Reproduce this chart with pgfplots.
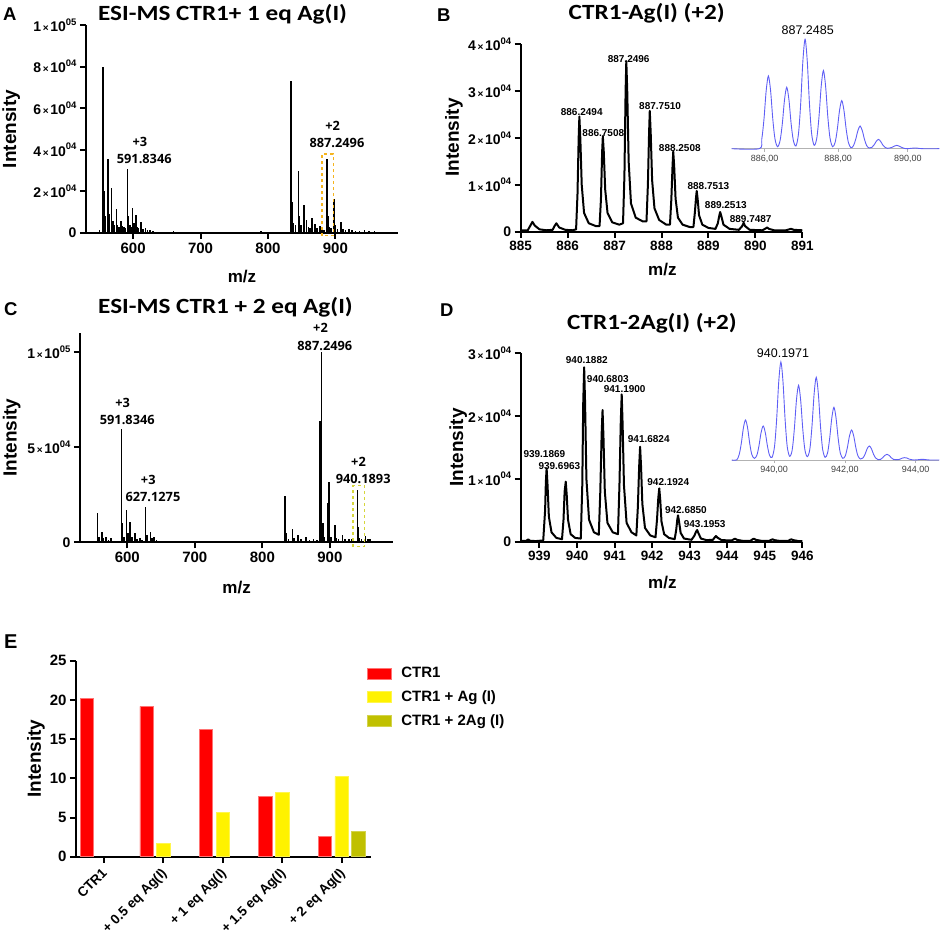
\documentclass[border=0pt]{standalone}
\usepackage{pgfplots}
\pgfplotsset{compat=1.18}
\usepackage{fontspec}
\setmainfont{Liberation Sans}
\newfontfamily\osans{Open Sans}
\newfontfamily\calibri{Carlito}
\newcommand\fs[1]{\fontsize{#1}{#1}\selectfont}
\newcommand\sci[2]{#1{\fs{10}\,×\,}10\raisebox{0.45em}{\fs{9.5}#2}}
\definecolor{boxA}{RGB}{245,180,30}
\definecolor{boxC}{RGB}{214,214,60}
\definecolor{insetc}{RGB}{95,95,245}
\definecolor{olivec}{RGB}{192,192,0}
\pgfplotsset{
  panel/.style={scale only axis, anchor=south west, axis lines=left,
    axis line style={line width=2pt,-}, tick style={line width=2pt,black},
    major tick length=6pt, tick align=outside, clip=false,
    scaled y ticks=false, scaled x ticks=false,
    ticklabel style={font=\bfseries\fs{14}},
    /pgf/number format/assume math mode=true,
    xlabel style={font=\bfseries\fs{17}, anchor=center},
    ylabel style={font=\bfseries\fs{19}, anchor=center},
    xlabel=m/z, ylabel=Intensity},
  insetax/.style={scale only axis, anchor=south west, axis x line=bottom, axis y line=none,
    axis line style={gray!60, line width=0.8pt,-}, tick style={gray!60, line width=0.6pt},
    major tick length=3pt, tick align=outside, ymin=0, clip=false,
    ticklabel style={font=\fs{9}, text=gray!50!black}},
}
\tikzset{
  ann/.style={font=\osans\bfseries\fs{12.8}, inner sep=0pt},
  pk/.style={font=\bfseries\fs{10}, inner sep=0pt},
  ttl/.style={anchor=base, font=\calibri\bfseries\fs{21.7}, xscale=1.16},
}
\begin{document}
\begin{tikzpicture}[x=1pt,y=1pt]
\useasboundingbox (0,0) rectangle (941,937);

% ---------------- Panel A ----------------
\begin{axis}[panel, at={(86pt,704pt)}, width=312pt, height=208pt,
  xmin=530, xmax=993, ymin=0, ymax=100000,
  xtick={600,700,800,900}, xticklabel style={font=\bfseries\fs{15}},
  ytick={0,20000,40000,60000,80000,100000},
  yticklabels={0,\sci{2}{04},\sci{4}{04},\sci{6}{04},\sci{8}{04},\sci{1}{05}},
  xlabel style={at={(axis description cs:0.5,-0.21)}},
  ylabel style={at={(axis description cs:-0.24,0.5)}}]
\addplot[ycomb, line width=1.6pt, black, mark=none] coordinates {
(545,500)(550,1200)(555.4,80000)(557,20000)(559,8000)(562.8,35700)(565,9000)(567.8,21600)
(570,6000)(572,4000)(575.2,11500)(577,4000)(579,3000)(582.2,5600)(584,3500)(586,3000)
(588,2500)(591.6,30900)(593,8000)(595,4000)(597,3000)(599,12000)(601,5000)(604.5,8800)
(606,3000)(608,2500)(611.4,5100)(613,2000)(615,1800)(618,2200)(621,1500)(625,1200)
(629,900)(635,700)(641,600)(648,500)(655,500)(660,800)(668,400)(676,400)(685,300)
(695,300)(705,300)(715,300)(725,700)(735,300)(745,300)(755,300)(765,400)(775,400)
(780,700)(790,1000)(800,400)(810,400)(820,400)(828,500)(834.5,73100)(836,15000)
(838,5000)(841,4000)(845.4,29900)(847,8000)(849,4000)(853.8,13600)(857.3,6400)
(860,3000)(862,2500)(865.7,7200)(869.7,4500)(873,2500)(877.6,3200)(880,1500)(883,1500)
(887.5,35700)(889,8000)(891,3000)(894,2500)(898,16500)(900,4000)(903,2000)(908,5100)
(911,2000)(915,1500)(920.7,1900)(925,1200)(930,1000)(936,800)(943,1600)(950,800)
(958,1000)(965,600)(975,500)(985,400)};
\draw[boxA, dashed, line width=1.4pt] (axis cs:880,-1300) rectangle (axis cs:897,37900);
\node[ann] at (axis cs:610,44000) {+3};
\node[ann] at (axis cs:616.4,35700) {591.8346};
\node[ann] at (axis cs:896,51700) {+2};
\node[ann] at (axis cs:902.4,43500) {887.2496};
\end{axis}

% ---------------- Panel B ----------------
\begin{axis}[panel, at={(520.7pt,705.3pt)}, width=281.6pt, height=187.4pt,
  xmin=885, xmax=891, ymin=0, ymax=40000,
  xtick={885,886,887,888,889,890,891}, xticklabel style={font=\bfseries\fs{13.5}},
  ytick={0,10000,20000,30000,40000},
  yticklabels={0,\sci{1}{04},\sci{2}{04},\sci{3}{04},\sci{4}{04}},
  xlabel style={at={(axis description cs:0.503,-0.204)}},
  ylabel style={at={(axis description cs:-0.237,0.503)}}]
\addplot[black, line width=2pt, line join=round, mark=none] coordinates {
(885.00,300)(885.15,300)(885.20,1200)(885.25,2100)(885.30,1300)(885.40,500)(885.55,300)
(885.68,400)(885.72,1200)(885.76,1800)(885.82,900)(885.95,400)(886.10,300)(886.18,500)
(886.21,8000)(886.235,20000)(886.25,24600)(886.27,20000)(886.30,10000)(886.35,4000)
(886.45,1800)(886.60,1200)(886.68,1200)(886.71,7000)(886.735,17000)(886.75,20400)
(886.77,17000)(886.80,9000)(886.85,4000)(886.95,2000)(887.10,1500)(887.18,1800)
(887.21,12000)(887.235,30000)(887.25,36400)(887.27,30000)(887.30,15000)(887.35,6000)
(887.45,3000)(887.60,2200)(887.68,2200)(887.71,10000)(887.735,21000)(887.75,25800)
(887.77,21000)(887.80,11000)(887.85,5000)(887.95,2500)(888.10,1500)(888.18,1500)
(888.21,7000)(888.235,14000)(888.25,17100)(888.27,14000)(888.30,7000)(888.35,3000)
(888.45,1500)(888.60,1000)(888.68,1000)(888.71,4000)(888.735,7200)(888.75,8700)
(888.77,7000)(888.80,3500)(888.87,1500)(889.00,800)(889.15,600)(889.20,1800)
(889.235,3600)(889.25,4200)(889.27,3500)(889.32,1500)(889.45,600)(889.65,400)
(889.72,1200)(889.75,1900)(889.78,1200)(889.88,400)(890.15,300)(890.22,700)(890.25,900)
(890.29,600)(890.40,300)(890.65,300)(890.72,500)(890.76,600)(890.82,400)(891.00,300)};
\node[pk] at (axis cs:886.30,25500) {886.2494};
\node[pk] at (axis cs:886.76,21000) {886.7508};
\node[pk] at (axis cs:887.30,36900) {887.2496};
\node[pk] at (axis cs:887.97,26800) {887.7510};
\node[pk] at (axis cs:888.39,17800) {888.2508};
\node[pk] at (axis cs:889.00,9800) {888.7513};
\node[pk] at (axis cs:889.37,5700) {889.2513};
\node[pk] at (axis cs:889.90,2800) {889.7487};
\end{axis}

% inset B
\begin{axis}[insetax, at={(731.7pt,788.3pt)}, width=207.6pt, height=109.4pt,
  xmin=885.25, xmax=890.91, ymax=328,
  xtick={886.15,888.15,890.05}, xticklabels={{886,00},{888,00},{890,00}}]
\addplot[insetc, line width=0.9pt, smooth, tension=0.5, mark=none] coordinates {
(885.25,0)(886.00,0)(886.07,29)(886.13,89)(886.19,174)(886.25,218)(886.31,174)(886.37,89)
(886.43,29)(886.50,6)(886.57,25)(886.63,75)(886.69,147)(886.75,184)(886.81,147)(886.87,75)
(886.93,25)(887.00,8)(887.07,44)(887.13,134)(887.19,262)(887.25,328)(887.31,262)(887.37,134)
(887.43,44)(887.50,10)(887.57,32)(887.63,96)(887.69,187)(887.75,234)(887.81,187)(887.87,96)
(887.93,32)(888.00,6)(888.07,19)(888.13,59)(888.19,115)(888.25,144)(888.31,115)(888.37,59)
(888.43,19)(888.50,3)(888.57,9)(888.63,28)(888.69,54)(888.75,68)(888.81,54)(888.87,28)
(888.93,9)(889.00,2)(889.07,4)(889.13,11)(889.19,22)(889.25,28)(889.31,22)(889.37,11)
(889.43,4)(889.50,1)(889.62,4)(889.69,8)(889.75,10)(889.81,8)(889.88,4)(890.00,0)
(890.19,1.6)(890.25,2)(890.31,1.6)(890.45,0)(890.91,0)};
\end{axis}
\node[font=\fs{12.5}, inner sep=0pt] at (807.7,907) {887.2485};

% ---------------- Panel C ----------------
\begin{axis}[panel, at={(80pt,394.7pt)}, width=312.7pt, height=209pt,
  xmin=530, xmax=993, ymin=0, ymax=110000,
  xtick={600,700,800,900}, xticklabel style={font=\bfseries\fs{15}},
  ytick={0,50000,100000},
  yticklabels={0,\sci{5}{04},\sci{1}{05}},
  xlabel style={at={(axis description cs:0.501,-0.215)}},
  ylabel style={at={(axis description cs:-0.218,0.501)}}]
\addplot[ycomb, line width=1.6pt, black, mark=none] coordinates {
(545,300)(550,500)(556.1,15300)(558,3000)(563,5600)(565,2000)(568.4,2600)(572,1200)
(575.8,2100)(580,800)(585,700)(591.6,59800)(593,10000)(595,3000)(599,17000)(601,5000)
(604,10900)(607,3000)(611.8,4700)(614,1800)(618.7,2100)(622,1200)(627.1,18500)(629,4000)
(634.5,5300)(637,2000)(639.5,2600)(643,1200)(648,800)(655,600)(662,500)(670,400)(680,300)
(690,300)(700,300)(720,300)(740,300)(760,300)(780,300)(800,400)(815,300)(825,400)
(833.3,24400)(835,5000)(839,1500)(844.7,7000)(847,2000)(853,3900)(857,1500)(864.4,2600)
(870,1200)(876,1500)(881,1200)(885,64000)(887.8,100000)(890,10000)(892,3000)(896.5,20500)
(898.5,31600)(902,3000)(907.4,9100)(910,2500)(913,1500)(918.7,3900)(922,1500)(928.6,1600)
(933,1500)(940.9,27600)(942.5,8000)(944,2000)(947,1500)(952.7,3300)(956,1500)(959,1500)
(965,800)(972,700)(980,500)(988,400)};
\draw[boxC, dashed, line width=1.4pt] (axis cs:934.5,-2300) rectangle (axis cs:950.8,29900);
\node[ann] at (axis cs:593.1,73300) {+3};
\node[ann] at (axis cs:600,64150) {591.8346};
\node[ann] at (axis cs:631.1,32860) {+3};
\node[ann] at (axis cs:638,23700) {627.1275};
\node[ann] at (axis cs:886.1,112800) {+2};
\node[ann] at (axis cs:892.5,103500) {887.2496};
\node[ann] at (axis cs:942.4,42530) {+2};
\node[ann] at (axis cs:949.3,33390) {940.1893};
\end{axis}

% ---------------- Panel D ----------------
\begin{axis}[panel, at={(520.7pt,395.3pt)}, width=281.6pt, height=188.4pt,
  xmin=938.5, xmax=946, ymin=0, ymax=30000,
  xtick={939,940,941,942,943,944,945,946}, xticklabel style={font=\bfseries\fs{13.5}},
  ytick={0,10000,20000,30000},
  yticklabels={0,\sci{1}{04},\sci{2}{04},\sci{3}{04}},
  xlabel style={at={(axis description cs:0.503,-0.218)}},
  ylabel style={at={(axis description cs:-0.222,0.5)}}]
\addplot[black, line width=2pt, line join=round, mark=none] coordinates {
(938.50,100)(938.65,150)(938.70,370)(938.75,150)(938.90,100)(939.10,200)(939.15,5000)
(939.17,9500)(939.19,11700)(939.215,9000)(939.25,4000)(939.32,1500)(939.45,600)(939.60,400)
(939.64,3500)(939.67,8000)(939.70,9560)(939.725,7500)(939.76,3500)(939.83,1200)(939.95,600)
(940.10,500)(940.14,9000)(940.165,22000)(940.19,27770)(940.215,22000)(940.25,10000)
(940.32,3500)(940.45,1500)(940.58,1100)(940.62,8000)(940.655,17000)(940.68,20970)
(940.705,16500)(940.74,8000)(940.81,3000)(940.95,1500)(941.09,1200)(941.13,9000)
(941.165,19000)(941.19,23470)(941.215,18500)(941.25,9000)(941.32,3000)(941.45,1500)
(941.58,1000)(941.62,5500)(941.655,12000)(941.68,15130)(941.705,12000)(941.74,6000)
(941.81,2200)(941.95,1000)(942.09,700)(942.13,3500)(942.165,7000)(942.19,8500)
(942.215,6800)(942.25,3200)(942.32,1200)(942.45,600)(942.60,400)(942.64,1800)(942.67,3500)
(942.69,4200)(942.715,3300)(942.76,1400)(942.85,500)(943.05,300)(943.13,1000)(943.17,1600)
(943.20,1860)(943.23,1400)(943.30,500)(943.45,250)(943.62,300)(943.67,700)(943.70,900)
(943.74,650)(943.85,250)(944.12,200)(944.18,400)(944.21,480)(944.26,300)(944.40,150)
(944.62,150)(944.68,400)(944.71,480)(944.76,300)(944.90,150)(945.12,150)(945.18,320)
(945.21,370)(945.26,250)(945.40,120)(945.62,120)(945.68,320)(945.71,370)(945.76,250)
(945.90,100)(946.00,100)};
\node[pk] at (axis cs:939.13,13960) {939.1869};
\node[pk] at (axis cs:939.53,12100) {939.6963};
\node[pk] at (axis cs:940.26,28900) {940.1882};
\node[pk] at (axis cs:940.82,25860) {940.6803};
\node[pk] at (axis cs:941.27,24320) {941.1900};
\node[pk] at (axis cs:941.91,16350) {941.6824};
\node[pk] at (axis cs:942.43,9450) {942.1924};
\node[pk] at (axis cs:942.90,5040) {942.6850};
\node[pk] at (axis cs:943.40,2760) {943.1953};
\end{axis}

% inset D
\begin{axis}[insetax, at={(731.7pt,477pt)}, width=207.6pt, height=98pt,
  xmin=938.8, xmax=944.67, ymax=294,
  xtick={940,942,944}, xticklabels={{940,00},{942,00},{944,00}}]
\addplot[insetc, line width=0.9pt, smooth, tension=0.5, mark=none] coordinates {
(938.80,0)(938.94,0)(939.01,16)(939.07,49)(939.13,96)(939.19,120)(939.25,96)(939.31,49)
(939.37,16)(939.44,5)(939.51,14)(939.57,42)(939.63,82)(939.69,102)(939.75,82)(939.81,42)
(939.87,14)(939.94,8)(940.01,40)(940.07,121)(940.13,235)(940.19,294)(940.25,235)(940.31,121)
(940.37,40)(940.44,11)(940.51,30)(940.57,92)(940.63,179)(940.69,224)(940.75,179)(940.81,92)
(940.87,30)(940.94,10)(941.01,33)(941.07,102)(941.13,198)(941.19,248)(941.25,198)(941.31,102)
(941.37,33)(941.44,8)(941.51,21)(941.57,65)(941.63,126)(941.69,158)(941.75,126)(941.81,65)
(941.87,21)(941.94,5)(942.01,12)(942.07,37)(942.13,72)(942.19,90)(942.25,72)(942.31,37)
(942.37,12)(942.44,3)(942.51,6)(942.57,17)(942.63,34)(942.69,42)(942.75,34)(942.81,17)
(942.87,6)(942.94,1)(943.01,2)(943.07,7)(943.13,14)(943.19,17)(943.25,14)(943.31,7)
(943.37,2)(943.51,1)(943.57,3)(943.63,6)(943.69,7)(943.75,6)(943.81,3)(943.95,0)
(944.13,1.6)(944.19,2)(944.25,1.6)(944.40,0)(944.67,0)};
\end{axis}
\node[font=\fs{12.5}, inner sep=0pt] at (783,584) {940.1971};

% ---------------- Panel E ----------------
\begin{axis}[panel, at={(76pt,80.3pt)}, width=294.7pt, height=196pt,
  xmin=-0.47, xmax=4.49, ymin=0, ymax=25,
  xtick={0,1,2,3,4},
  xticklabels={CTR1,+ 0.5 eq Ag(I),+ 1 eq Ag(I),+ 1.5 eq Ag(I),+ 2 eq Ag(I)},
  xticklabel style={rotate=45, anchor=north east, font=\bfseries\fs{13.5}, xshift=-4pt, inner sep=1pt},
  ytick={0,5,10,15,20,25}, yticklabel style={font=\bfseries\fs{15}},
  xlabel={}, ylabel=Intensity,
  ylabel style={at={(axis description cs:-0.136,0.5)}},
  legend image code/.code={\fill[#1] (0pt,-5.5pt) rectangle (24pt,5.5pt);},
  legend cell align=left,
  legend style={draw=none, fill=none, at={(axis description cs:0.986,0.972)}, anchor=north west,
    font=\bfseries\fs{15}, row sep=9.5pt, inner sep=0pt,
    /tikz/every odd column/.append style={column sep=9pt},
    nodes={inner sep=1pt}}]
\addplot[ybar, bar width=13.3pt, bar shift=-16.8pt, fill=red, draw=red!55!white, line width=0.6pt]
  coordinates {(0,20.15)(1,19.17)(2,16.2)(3,7.65)(4,2.64)};
\addplot[ybar, bar width=13.3pt, bar shift=0pt, fill=yellow, draw=yellow!70!white, line width=0.6pt]
  coordinates {(1,1.70)(2,5.70)(3,8.16)(4,10.2)};
\addplot[ybar, bar width=13.3pt, bar shift=16.8pt, fill=olivec, draw=olivec!70!white, line width=0.6pt]
  coordinates {(4,3.19)};
\legend{CTR1,CTR1 + Ag (I),CTR1 + 2Ag (I)}
\end{axis}

% ---------------- titles and panel letters ----------------
\node[ttl] at (222.6,916.3) {ESI-MS CTR1+ 1 eq Ag(I)};
\node[ttl] at (646.7,917) {CTR1-Ag(I) (+2)};
\node[ttl] at (225.5,623.3) {ESI-MS CTR1 + 2 eq Ag(I)};
\node[ttl] at (652,607) {CTR1-2Ag(I) (+2)};
\node[anchor=base west, inner sep=0pt, font=\bfseries\fs{18.5}] at (3,916.3) {A};
\node[anchor=base west, inner sep=0pt, font=\bfseries\fs{18.5}] at (437,915.3) {B};
\node[anchor=base west, inner sep=0pt, font=\bfseries\fs{18.5}] at (4,621) {C};
\node[anchor=base west, inner sep=0pt, font=\bfseries\fs{18.5}] at (440,620.3) {D};
\node[anchor=base west, inner sep=0pt, font=\bfseries\fs{20}] at (4,288.7) {E};
\end{tikzpicture}
\end{document}
